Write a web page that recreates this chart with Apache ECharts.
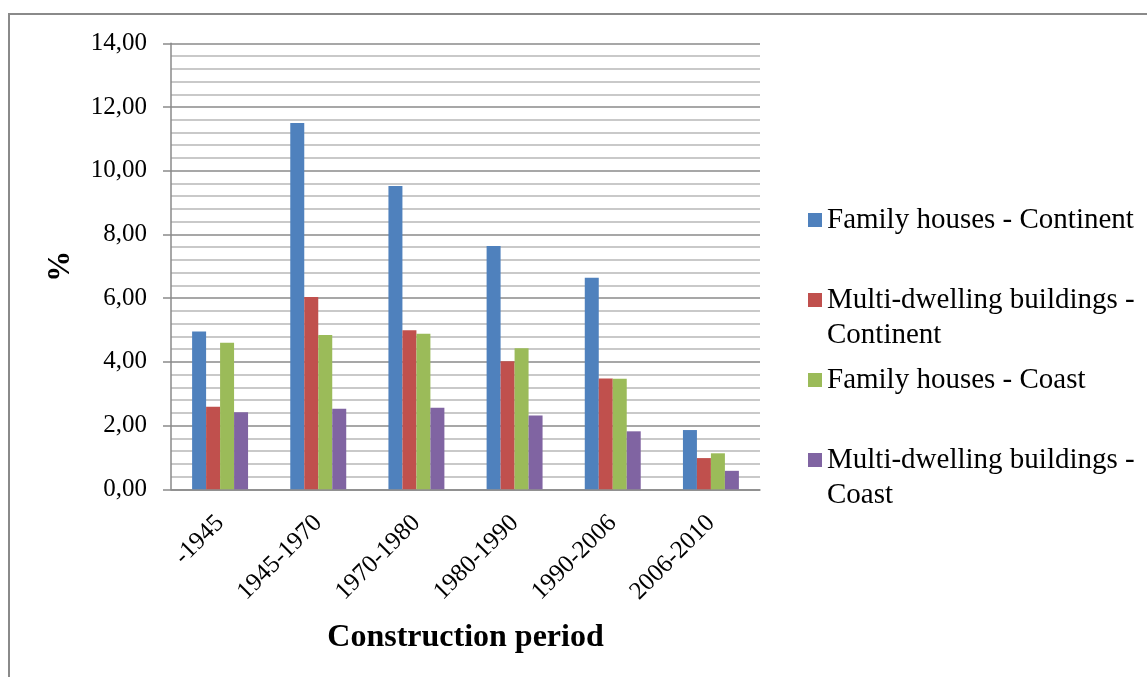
<!DOCTYPE html>
<html>
<head>
<meta charset="utf-8">
<script src="https://cdn.jsdelivr.net/npm/echarts@6/dist/echarts.min.js"></script>
<style>
html,body{margin:0;padding:0;background:#fff;}
#chart{width:1147px;height:677px;}
</style>
</head>
<body>
<div id="chart"></div>
<script>
var categories = ['-1945', '1945-1970', '1970-1980', '1980-1990', '1990-2006', '2006-2010'];
var familyContinent = [4.95, 11.50, 9.52, 7.64, 6.64, 1.86];
var multiContinent = [2.59, 6.04, 4.99, 4.02, 3.48, 0.98];
var familyCoast = [4.60, 4.84, 4.88, 4.43, 3.47, 1.13];
var multiCoast = [2.42, 2.53, 2.56, 2.32, 1.82, 0.58];
var seriesNames = ['Family houses - Continent', 'Multi-dwelling buildings - Continent', 'Family houses - Coast', 'Multi-dwelling buildings - Coast'];
var seriesColors = ['#4F81BD', '#C0504D', '#9BBB59', '#8064A2'];
var seriesData = [familyContinent, multiContinent, familyCoast, multiCoast];

var FONT = "'Liberation Serif', 'Times New Roman', serif";
var chart = echarts.init(document.getElementById('chart'));

var series = seriesNames.map(function (n, i) {
  return {
    name: n,
    type: 'bar',
    data: seriesData[i],
    itemStyle: { color: seriesColors[i] },
    barGap: '0%',
    barCategoryGap: '43%'
  };
});

chart.setOption({
  animation: false,
  backgroundColor: '#fff',
  graphic: [{
    type: 'rect',
    shape: { x: 9, y: 14, width: 1200, height: 700 },
    style: { fill: 'none', stroke: '#8a8a8a', lineWidth: 2 },
    silent: true
  }],
  grid: { left: 171, right: 387, top: 43.3, bottom: 187.7, containLabel: false },
  legend: {
    orient: 'vertical',
    left: 803,
    top: 197.5,
    itemWidth: 14,
    itemHeight: 14,
    itemGap: 10,
    icon: 'rect',
    data: seriesNames,
    formatter: function (name) {
      if (name.indexOf('Multi') === 0) {
        return ' \n' + name.replace('buildings - ', 'buildings -\n');
      }
      return name;
    },
    textStyle: { fontFamily: FONT, fontSize: 29, color: '#000', lineHeight: 35 }
  },
  xAxis: {
    type: 'category',
    data: categories,
    name: 'Construction period',
    nameLocation: 'middle',
    nameGap: 132,
    nameTextStyle: { fontFamily: FONT, fontSize: 32, fontWeight: 'bold', color: '#000' },
    axisLine: { show: true, lineStyle: { color: '#8a8a8a', width: 1.5 } },
    axisTick: { show: false },
    axisLabel: { rotate: 45, margin: 30, fontFamily: FONT, fontSize: 25, color: '#000', interval: 0 }
  },
  yAxis: {
    type: 'value',
    min: 0,
    max: 14,
    interval: 2,
    name: '%',
    nameLocation: 'middle',
    nameGap: 95,
    nameTextStyle: { fontFamily: FONT, fontSize: 31, fontWeight: 'bold', color: '#000' },
    axisLine: { show: true, lineStyle: { color: '#8a8a8a', width: 1.5 } },
    axisTick: { show: true, length: 8, lineStyle: { color: '#8a8a8a', width: 1.5 } },
    axisLabel: {
      margin: 24, fontFamily: FONT, fontSize: 25, color: '#000',
      formatter: function (v) { return v.toFixed(2).replace('.', ','); }
    },
    splitLine: { show: true, lineStyle: { color: '#8a8a8a', width: 1.5 } },
    minorTick: { show: false, splitNumber: 5 },
    minorSplitLine: { show: true, lineStyle: { color: '#b8b8b8', width: 1.5 } }
  },
  series: series
});
</script>
</body>
</html>
